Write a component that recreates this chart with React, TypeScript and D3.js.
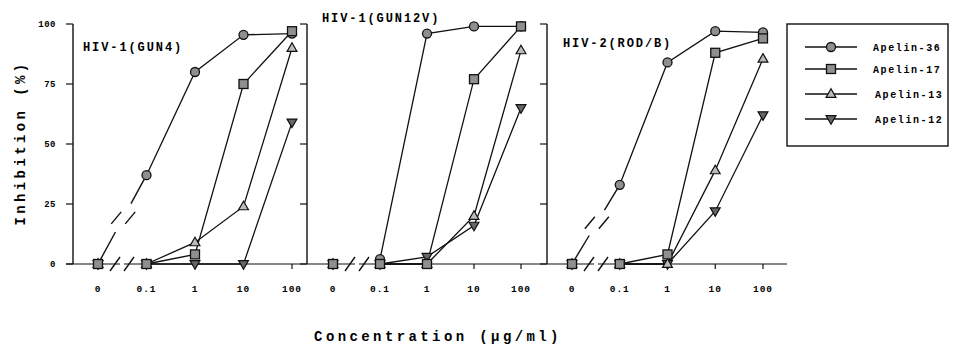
import React from "react";
import { scaleLinear, scalePoint, line, symbol, symbolTriangle } from "d3";

const concLabels = ["0", "0.1", "1", "10", "100"];
const yTicks = [0, 25, 50, 75, 100];
const panelTitles = ["HIV-1(GUN4)", "HIV-1(GUN12V)", "HIV-2(ROD/B)"];
const seriesNames = ["Apelin-36", "Apelin-17", "Apelin-13", "Apelin-12"];

// values per series, in seriesNames order
const gun4Values = [
  [0, 37, 80, 95.5, 96],
  [0, 0, 4, 75, 97],
  [0, 0, 9, 24, 90],
  [0, 0, 0, 0, 59],
];
const gun12vValues = [
  [0, 2, 96, 99, 99],
  [0, 0, 0, 77, 99],
  [0, 0, 0, 20, 89],
  [0, 0, 3, 16, 65],
];
const rodbValues = [
  [0, 33, 84, 97, 96.5],
  [0, 0, 4, 88, 94],
  [0, 0, 0, 39, 85.5],
  [0, 0, 0, 22, 62],
];
const panelValues = [gun4Values, gun12vValues, rodbValues];
// Apelin-36 drawn with a broken link from 0 to 0.1
const brokenLink = [true, false, true];

const W = 956;
const H = 345;
const top = 24;
const bottom = 264;
// panel layout: y-axis x, first tick x, last tick x, title x, title y
const panels = [
  { axis: 73, x0: 98, x1: 292, tx: 83, ty: 51 },
  { axis: 307, x0: 333, x1: 521, tx: 322, ty: 22 },
  { axis: 547, x0: 572, x1: 763, tx: 563, ty: 47 },
];
const axisEnd = 787;

const font = "'Liberation Mono', 'DejaVu Sans Mono', monospace";
const ink = "#111";
const markFill = "#8f8f8f";

const y = scaleLinear().domain([0, 100]).range([bottom, top]);

function Marker({ kind, x, yy }: { kind: number; x: number; yy: number }) {
  if (kind === 0) return <circle cx={x} cy={yy} r={4.5} fill={markFill} stroke={ink} strokeWidth={1.3} />;
  if (kind === 1)
    return <rect x={x - 4.5} y={yy - 4.5} width={9} height={9} fill={markFill} stroke={ink} strokeWidth={1.3} />;
  const tri = symbol(symbolTriangle, 42)() as string;
  const rot = kind === 3 ? 180 : 0;
  return (
    <path d={tri} transform={`translate(${x},${yy + (kind === 3 ? -0.5 : 0.5)}) rotate(${rot})`}
      fill={kind === 3 ? "#666" : "#bbb"} stroke={ink} strokeWidth={1.2} />
  );
}

function Panel({ idx }: { idx: number }) {
  const p = panels[idx];
  const x = scalePoint<string>().domain(concLabels).range([p.x0, p.x1]);
  const vals = panelValues[idx];
  const ln = line<number>().x((_, i) => x(concLabels[i + 1]) as number).y((d) => y(d));
  const b0 = (x("0") as number) + 17;
  const b1 = b0 + 14;
  const order = [3, 2, 0, 1];
  const left = p.axis;
  const right = idx < 2 ? panels[idx + 1].axis : axisEnd;
  // broken link geometry
  let broken = null;
  if (brokenLink[idx]) {
    const ax = x("0") as number, ay = y(vals[0][0]);
    const bx = x("0.1") as number, by = y(vals[0][1]);
    const pt = (t: number) => [ax + (bx - ax) * t, ay + (by - ay) * t];
    const a = pt(0.36), b = pt(0.68), m = pt(0.52);
    broken = (
      <g stroke={ink} strokeWidth={1.4}>
        <line x1={ax} y1={ay} x2={a[0]} y2={a[1]} />
        <line x1={b[0]} y1={b[1]} x2={bx} y2={by} />
        <line x1={m[0] - 12} y1={m[1] + 6} x2={m[0] - 2} y2={m[1] - 6} />
        <line x1={m[0] + 2} y1={m[1] + 6} x2={m[0] + 12} y2={m[1] - 6} />
      </g>
    );
  }
  return (
    <g>
      <line x1={left} y1={top} x2={left} y2={bottom} stroke={ink} strokeWidth={1.4} />
      {yTicks.map((t) => (
        <line key={t} x1={left - 7} x2={left} y1={y(t)} y2={y(t)} stroke={ink} strokeWidth={1.2} />
      ))}
      {idx === 0 &&
        yTicks.map((t) => (
          <text key={t} x={left - 17} y={y(t) + 3} textAnchor="end" fontFamily={font} fontWeight="bold"
            fontSize={9} letterSpacing={0.5}>{t}</text>
        ))}
      <line x1={idx === 0 ? left - 7 : left} x2={b0 + 5} y1={bottom} y2={bottom} stroke={ink} strokeWidth={1.2} />
      <line x1={b1 - 5} x2={right} y1={bottom} y2={bottom} stroke={ink} strokeWidth={1.2} />
      <g stroke={ink} strokeWidth={1.4}>
        <line x1={b0 - 5} y1={bottom + 7} x2={b0 + 5} y2={bottom - 7} />
        <line x1={b1 - 5} y1={bottom + 7} x2={b1 + 5} y2={bottom - 7} />
      </g>
      {concLabels.map((c) => (
        <g key={c}>
          <line x1={x(c)} x2={x(c)} y1={bottom} y2={bottom + 5} stroke={ink} strokeWidth={1.2} />
          <text x={x(c)} y={292} textAnchor="middle" fontFamily={font} fontWeight="bold" fontSize={9.5}
            letterSpacing={1}>{c}</text>
        </g>
      ))}
      <text x={p.tx} y={p.ty} fontFamily={font} fontWeight="bold" fontSize={12} letterSpacing={1.9}>
        {panelTitles[idx]}
      </text>
      {vals.map((s, si) => (
        <path key={si} d={ln(s.slice(1)) as string} fill="none" stroke={ink} strokeWidth={1.3} />
      ))}
      {broken}
      {order.map((si) =>
        vals[si].map((v, i) => <Marker key={`${si}-${i}`} kind={si} x={x(concLabels[i]) as number} yy={y(v)} />)
      )}
    </g>
  );
}

function Legend() {
  const rowY = [47, 69, 94, 119];
  return (
    <g>
      <rect x={787} y={24} width={161} height={122} fill="none" stroke={ink} strokeWidth={1.4} />
      {seriesNames.map((n, i) => (
        <g key={n}>
          <line x1={805} x2={857} y1={rowY[i]} y2={rowY[i]} stroke={ink} strokeWidth={1.3} />
          <Marker kind={i} x={831} yy={rowY[i]} />
          <text x={i >= 2 ? 875 : 873} y={rowY[i] + 4} fontFamily={font} fontWeight="bold" fontSize={10}
            letterSpacing={1.6}>{n}</text>
        </g>
      ))}
    </g>
  );
}

export default function App() {
  return (
    <svg width={W} height={H} style={{ position: "absolute", left: 0, top: 0, background: "#fff" }}>
      <rect width={W} height={H} fill="#fff" />
      {panels.map((_, i) => (
        <Panel key={i} idx={i} />
      ))}
      <Legend />
      <text transform="translate(25,143) rotate(-90)" textAnchor="middle" fontFamily={font} fontWeight="bold"
        fontSize={14} letterSpacing={3.4}>Inhibition (%)</text>
      <text x={438} y={341} textAnchor="middle" fontFamily={font} fontWeight="bold" fontSize={14}
        letterSpacing={3.4}>Concentration (µg/ml)</text>
    </svg>
  );
}
